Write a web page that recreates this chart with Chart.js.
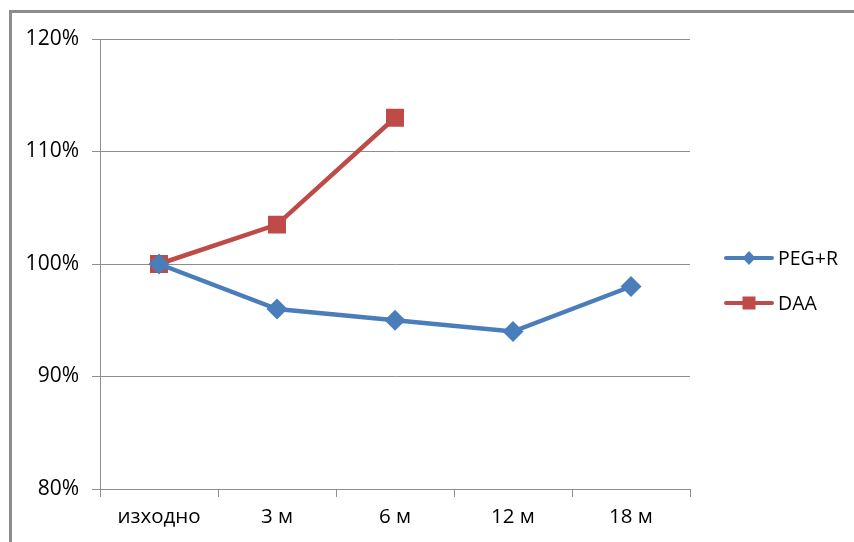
<!DOCTYPE html>
<html>
<head>
<meta charset="utf-8">
<script src="https://cdn.jsdelivr.net/npm/chart.js@4/dist/chart.umd.min.js"></script>
<style>
  html, body { margin: 0; padding: 0; background: #fff; }
  #wrap { position: relative; width: 854px; height: 542px; overflow: hidden; }
  #frame { position: absolute; left: 9px; top: 10px; width: 900px; height: 600px;
           border-left: 3px solid #8c8c8c; border-top: 3px solid #8c8c8c; box-sizing: border-box; }
  canvas { position: absolute; left: 0; top: 0; }
</style>
</head>
<body>
<div id="wrap">
  <div id="frame"></div>
  <canvas id="c" width="854" height="542"></canvas>
</div>
<script>
// Time points of follow-up
const categories = ['изходно', '3 м', '6 м', '12 м', '18 м'];
// Relative values, percent of baseline
const pegR = [100, 96, 95, 94, 98];
const daa = [100, 103.5, 113, null, null];
const seriesNames = ['PEG+R', 'DAA'];
// Value axis range
const yMin = 80, yMax = 120, yStep = 10;

const FONT = "'Open Sans', 'DejaVu Sans', sans-serif";
const BLUE = '#4a7ebb';
const RED = '#be4b48';
const GRID = '#8e8e8e';

// Legend drawn as line + marker + label, on the right side
const sideLegend = {
  id: 'sideLegend',
  afterDraw(chart) {
    const ctx = chart.ctx;
    const items = [
      { name: seriesNames[0], color: BLUE, style: 'diamond', y: 258 },
      { name: seriesNames[1], color: RED, style: 'square', y: 303 }
    ];
    ctx.save();
    items.forEach(it => {
      ctx.strokeStyle = it.color;
      ctx.lineWidth = 4;
      ctx.lineCap = 'round';
      ctx.beginPath();
      ctx.moveTo(726, it.y);
      ctx.lineTo(772, it.y);
      ctx.stroke();
      ctx.fillStyle = it.color;
      ctx.beginPath();
      if (it.style === 'diamond') {
        ctx.moveTo(749, it.y - 7);
        ctx.lineTo(755.5, it.y);
        ctx.lineTo(749, it.y + 7);
        ctx.lineTo(742.5, it.y);
        ctx.closePath();
      } else {
        ctx.rect(742.5, it.y - 6.5, 13, 13);
      }
      ctx.fill();
      ctx.fillStyle = '#000';
      ctx.font = '19.5px ' + FONT;
      ctx.textAlign = 'left';
      ctx.textBaseline = 'middle';
      ctx.fillText(it.name, 778, it.y + 1);
    });
    ctx.restore();
  }
};

new Chart(document.getElementById('c'), {
  type: 'line',
  data: {
    labels: categories,
    datasets: [
      {
        label: seriesNames[0],
        data: pegR,
        borderColor: BLUE,
        backgroundColor: BLUE,
        borderWidth: 4.5,
        pointStyle: 'rectRot',
        pointRadius: 10.5,
        pointBorderWidth: 0,
        pointBackgroundColor: BLUE,
        tension: 0,
        spanGaps: false
      },
      {
        label: seriesNames[1],
        data: daa,
        borderColor: RED,
        backgroundColor: RED,
        borderWidth: 4.5,
        pointStyle: 'rect',
        pointRadius: 12.7,
        pointBorderWidth: 0,
        pointBackgroundColor: RED,
        tension: 0,
        spanGaps: false
      }
    ]
  },
  options: {
    responsive: false,
    animation: false,
    devicePixelRatio: 1,
    layout: { padding: { left: 0, top: 39, right: 164, bottom: 0 } },
    plugins: {
      legend: { display: false },
      tooltip: { enabled: false },
      title: { display: false }
    },
    scales: {
      x: {
        type: 'category',
        offset: true,
        afterFit(s) { s.height = 53; },
        border: { display: true, color: GRID, width: 1 },
        grid: { display: true, offset: true, drawOnChartArea: false, drawTicks: true, tickLength: 8, color: GRID, lineWidth: 1 },
        ticks: { color: '#000', font: { family: FONT, size: 20.5 }, padding: 8, maxRotation: 0, autoSkip: false }
      },
      y: {
        min: yMin,
        max: yMax,
        afterFit(s) { s.width = 100; },
        border: { display: true, color: GRID, width: 1 },
        grid: { display: true, drawTicks: true, tickLength: 8, color: GRID, lineWidth: 1 },
        ticks: {
          stepSize: yStep,
          color: '#000',
          font: { family: FONT, size: 21 },
          padding: 13,
          callback: v => v + '%'
        }
      }
    }
  },
  plugins: [sideLegend]
});
</script>
</body>
</html>
